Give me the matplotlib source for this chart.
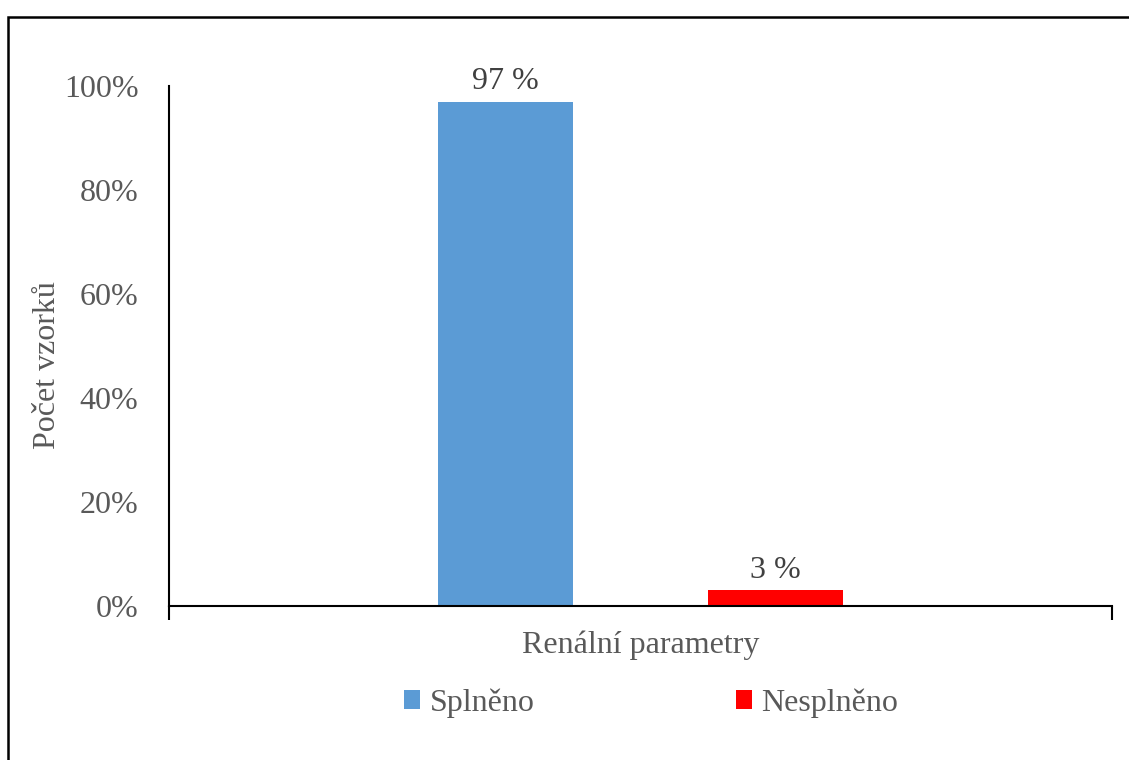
import matplotlib.pyplot as plt
from matplotlib.patches import Rectangle, Patch
from matplotlib.ticker import PercentFormatter

#-------------- Data ---------------------------------------------------------------

series = ['Splněno', 'Nesplněno']
values = [0.97, 0.03]
bar_labels = ['97 %', '3 %']
colors = ['#5B9BD5', '#FF0000']
category = 'Renální parametry'

#-------------- Figure -------------------------------------------------------------

plt.rcParams['font.family'] = ['Liberation Serif', 'DejaVu Serif']
grey = '#595959'
fs = 23

fig = plt.figure(figsize=(11.29, 7.6), dpi=100)
ax = fig.add_axes([169/1129, 1-606/760, (1112-169)/1129, (606-86)/760])

width = 0.143
xs = [0.5 - width, 0.5 + width]
for x, v, c, lab in zip(xs, values, colors, bar_labels):
    ax.bar(x, v, width=width, color=c)
    ax.text(x, v + 0.01, lab, ha='center', va='bottom', fontsize=fs, color='#404040')

ax.set_xlim(0, 1)
ax.set_ylim(0, 1)
ax.yaxis.set_major_formatter(PercentFormatter(1.0, decimals=0))
ax.set_yticks([0, 0.2, 0.4, 0.6, 0.8, 1.0])
ax.tick_params(axis='y', length=0, labelsize=fs, labelcolor=grey, pad=22)
ax.set_xticks([0, 1])
ax.set_xticklabels(['', ''])
ax.tick_params(axis='x', length=10, width=1.5, color='black')

for s in ['top', 'right']:
    ax.spines[s].set_visible(False)
for s in ['left', 'bottom']:
    ax.spines[s].set_linewidth(1.5)

fig.text((169+1112)/2/1129, 1-645/760, category, ha='center', va='center', fontsize=fs, color=grey)
fig.text(48/1129, 1-365/760, 'Počet vzorků', ha='center', va='center', rotation=90, fontsize=fs, color=grey)

handles = [Patch(facecolor=c, label=s) for s, c in zip(series, colors)]
leg = fig.legend(handles=handles, loc='center', bbox_to_anchor=(651/1129, 1-703/760), ncol=2,
                 frameon=False, fontsize=fs, handlelength=0.5, handleheight=0.5, handletextpad=0.3,
                 columnspacing=6.3)
for t in leg.get_texts():
    t.set_color(grey)

# outer chart border
fig.add_artist(Rectangle((8/1129, -0.1), 1.2, 1-17/760+0.1, transform=fig.transFigure,
                         fill=False, edgecolor='black', linewidth=1.8))

plt.savefig('out.png', dpi=100)
